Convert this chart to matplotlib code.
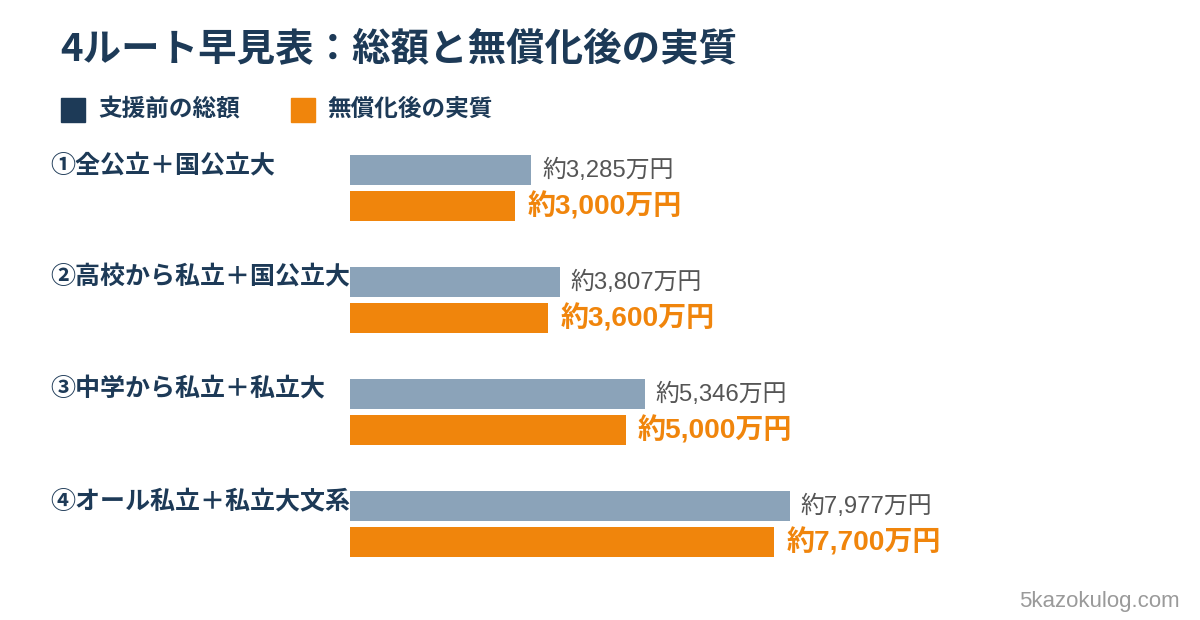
import matplotlib
matplotlib.use("Agg")
import matplotlib.pyplot as plt
import matplotlib.transforms as mtrans
from matplotlib.patches import Rectangle

plt.rcParams['font.family'] = ['Noto Sans CJK JP', 'DejaVu Sans']
LAT = ['Liberation Sans', 'Noto Sans CJK JP', 'DejaVu Sans']

title = "4ルート早見表：総額と無償化後の実質"
legend_labels = ["支援前の総額", "無償化後の実質"]
categories = ["①全公立＋国公立大", "②高校から私立＋国公立大", "③中学から私立＋私立大", "④オール私立＋私立大文系"]
total_values = [3285, 3807, 5346, 7977]
net_values = [3000, 3600, 5000, 7700]
total_labels = ["約3,285万円", "約3,807万円", "約5,346万円", "約7,977万円"]
net_labels = ["約3,000万円", "約3,600万円", "約5,000万円", "約7,700万円"]
watermark = "5kazokulog.com"

NAVY = "#1d3a57"
GRAY_BAR = "#8ba3b9"
ORANGE = "#f0850c"

W, H = 1200, 620
fig = plt.figure(figsize=(W / 100, H / 100), dpi=100)
fig.patch.set_facecolor("white")

def fx(px):
    return px / W

def fy(py):
    return 1 - py / H

# axes: x from 350px to 1150px, y from 132px to 580px
ax = fig.add_axes([fx(350), fy(580), fx(800), (580 - 132) / H])
ax.set_xlim(0, 800 / 0.0551)
ax.set_ylim(len(categories) - 0.5, -0.5)
ax.axis("off")

off = 18 / 112
bh = 30 / 112
ys = list(range(len(categories)))
ax.barh([y - off for y in ys], total_values, height=bh, color=GRAY_BAR, left=0)
ax.barh([y + off for y in ys], net_values, height=bh, color=ORANGE, left=0)

for y, v, t in zip(ys, total_values, total_labels):
    ax.annotate(t, (v, y - off), xytext=(11, 0), textcoords="offset pixels",
                va="center", ha="left", fontsize=17.2, color="#555555", family=LAT)
for y, v, t in zip(ys, net_values, net_labels):
    ax.annotate(t, (v, y + off), xytext=(12, 0), textcoords="offset pixels",
                va="center", ha="left", fontsize=20.2, color=ORANGE, fontweight="bold",
                family=LAT)

trans = mtrans.blended_transform_factory(fig.transFigure, ax.transData)
for y, c in zip(ys, categories):
    fig.text(fx(50), y - 0.205, c, transform=trans, va="center", ha="left",
             fontsize=18, fontweight="bold", color=NAVY)

fig.text(fx(60), fy(49), title, va="center", ha="left", fontsize=27.7,
         fontweight="bold", color=NAVY)

# legend
fig.patches.append(Rectangle((fx(61), fy(122)), fx(24), 24 / H, transform=fig.transFigure,
                             color=NAVY, zorder=3))
fig.text(fx(98), fy(109), legend_labels[0], va="center", ha="left", fontsize=17,
         fontweight="bold", color=NAVY)
fig.patches.append(Rectangle((fx(291), fy(122)), fx(24), 24 / H, transform=fig.transFigure,
                             color=ORANGE, zorder=3))
fig.text(fx(327), fy(109), legend_labels[1], va="center", ha="left", fontsize=17,
         fontweight="bold", color=NAVY)

fig.text(fx(1180), fy(601), watermark, va="center", ha="right", fontsize=16,
         color="#9a9a9a", family=["Liberation Sans", "DejaVu Sans"])

fig.savefig("out.png", dpi=100, facecolor="white")
